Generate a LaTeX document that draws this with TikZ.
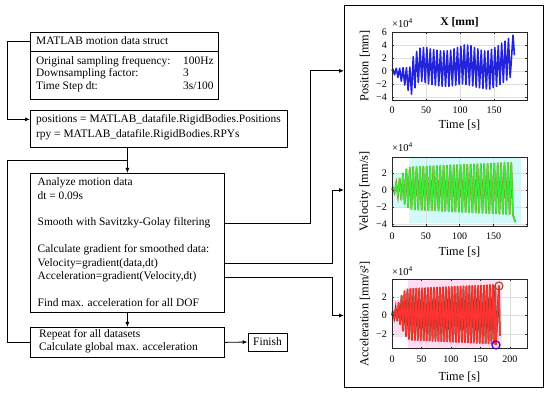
\documentclass[tikz,border=0pt]{standalone}
\usepackage{fontspec}
\setmainfont{Liberation Serif}
\usetikzlibrary{arrows.meta,calc}
\definecolor{posblue}{RGB}{35,35,220}
\definecolor{velgreen}{RGB}{60,235,60}
\definecolor{velolive}{RGB}{140,140,30}
\definecolor{accred}{RGB}{255,50,50}
\definecolor{accbrown}{RGB}{140,60,30}
\definecolor{cyanbg}{RGB}{210,250,250}
\definecolor{pinkbg}{RGB}{255,220,242}
\definecolor{gridgray}{RGB}{222,222,222}
\definecolor{axgray}{RGB}{40,40,40}
\definecolor{circbrown}{RGB}{150,80,30}
\definecolor{circblue}{RGB}{60,0,210}
\begin{document}
\begin{tikzpicture}[x=1pt,y=-1pt,
  box/.style={draw, line width=0.8pt, rectangle, inner sep=0pt},
  txt/.style={font=\fontsize{11.4}{13.5}\selectfont, anchor=west, inner sep=0pt, text height=8pt, text depth=2.5pt},
  conn/.style={line width=0.8pt},
  arr/.style={conn, -{Latex[length=5pt,width=4pt]}},
  axbox/.style={draw=axgray, line width=0.5pt},
  gridl/.style={draw=gridgray, line width=0.4pt},
  ticklab/.style={font=\fontsize{10}{12}\selectfont, inner sep=0pt},
  axlab/.style={font=\fontsize{12.3}{14}\selectfont, inner sep=0pt},
  expo/.style={font=\fontsize{10.5}{12}\selectfont, inner sep=0pt, anchor=west},
]
\useasboundingbox (0,0) rectangle (550,395);

% ---------- flowchart ----------
\node[box, anchor=north west, minimum width=188pt, minimum height=19pt] (b1h) at (30,32) {};
\node[box, anchor=north west, minimum width=188pt, minimum height=48pt] (b1b) at (30,51) {};
\node[txt] (t1) at (36,41.5) {MATLAB motion data struct};
\node[txt] (t2) at (36,61.5) {Original sampling frequency:};
\node[txt] (t3) at (36,74) {Downsampling factor:};
\node[txt] (t4) at (36,86.5) {Time Step dt:};
\node[txt] (v2) at (183,61.5) {100Hz};
\node[txt] (v3) at (183,74) {3};
\node[txt] (v4) at (183,86.5) {3s/100};

\node[box, anchor=north west, minimum width=257pt, minimum height=37pt] (b2) at (30,110) {};
\node[txt] (t5) at (36,119.5) {positions = MATLAB\_datafile.RigidBodies.Positions};
\node[txt] (t6) at (36,134.5) {rpy = MATLAB\_datafile.RigidBodies.RPYs};

\node[box, anchor=north west, minimum width=194pt, minimum height=139pt] (b3) at (30,173) {};
\node[txt] (l1) at (37.5,183) {Analyze motion data};
\node[txt] (l2) at (37.5,196.5) {dt = 0.09s};
\node[txt] (l3) at (37.5,223) {Smooth with Savitzky-Golay filtering};
\node[txt] (l4) at (37.5,250) {Calculate gradient for smoothed data:};
\node[txt] (l5) at (37.5,263.5) {Velocity=gradient(data,dt)};
\node[txt] (l6) at (37.5,277) {Acceleration=gradient(Velocity,dt)};
\node[txt] (l7) at (37.5,304) {Find max. acceleration for all DOF};

\node[box, anchor=north west, minimum width=194pt, minimum height=30pt] (b4) at (30,327) {};
\node[txt] (r1) at (39,334.5) {Repeat for all datasets};
\node[txt] (r2) at (39,348) {Calculate global max. acceleration};

\node[box, minimum width=39pt, minimum height=18pt, font=\fontsize{11.4}{13.5}\selectfont] (fin) at (267.5,342) {Finish};

\node[box, anchor=north west, minimum width=199pt, minimum height=382pt] (P) at (344,5) {};

% ---------- plot 1: position ----------
\begin{scope}[shift={(392,70.9)}, x=0.68pt, y=6.48pt]
  \coordinate (z1) at (0,0);
  \foreach \tk in {50,100,150} \draw[gridl] (\tk,-4.5) -- (\tk,6);
  \foreach \vv in {-4,-2,0,2,4} \draw[gridl] (0,\vv) -- (198.5,\vv);
  \draw[posblue, line width=1.6pt, line join=round] (0,0)
    \foreach \kk/\hi/\lo in {0/0.3/-0.6, 1/0.4/-1.0, 2/0.4/-1.6, 3/0.5/-2.2, 4/0.5/-3.0, 5/0.6/-3.6, 6/2.2/-2.6, 7/3.0/-1.8, 8/3.5/-1.6, 9/3.6/-1.8, 10/3.6/-2.0, 11/3.4/-2.1, 12/3.3/-2.2, 13/3.2/-2.3, 14/3.1/-2.4, 15/3.1/-2.4, 16/3.1/-2.4, 17/3.2/-2.3, 18/3.4/-2.2, 19/3.6/-2.1, 20/3.8/-2.0, 21/4.0/-2.1, 22/4.0/-2.2, 23/3.9/-2.3, 24/3.6/-2.5, 25/3.4/-2.6, 26/3.2/-2.7, 27/3.1/-2.8, 28/3.1/-2.8, 29/3.3/-2.6, 30/3.6/-2.4, 31/3.9/-2.1, 32/4.3/-1.8, 33/4.6/-1.4, 34/5.0/-1.0}
    { -- ({5*\kk+1.25},\hi) -- ({5*\kk+3.75},\lo) } -- (178,5.5) -- (180,2.4);
  \draw[axbox] (0,-4.5) rectangle (198.5,6);
  \foreach \tk in {0,50,100,150} {
    \draw[axbox] (\tk,-4.5) -- ++(0,1.5pt);
    \draw[axbox] (\tk,6) -- ++(0,-1.5pt);
    \node[ticklab] at ([yshift=-10pt]\tk,-4.5) {\tk};
  }
  \foreach \vv/\lab in {-4/−4,-2/−2,0/0,2/2,4/4,6/6} {
    \draw[axbox] (0,\vv) -- ++(1.5pt,0);
    \draw[axbox] (198.5,\vv) -- ++(-1.5pt,0);
    \node[ticklab, anchor=east] at ([xshift=-5pt]0,\vv) {\lab};
  }
\end{scope}
\node[font=\bfseries\fontsize{11.6}{13}\selectfont, inner sep=0pt] (ti1) at (459.5,22) {X [mm]};
\node[expo] (e1) at (392,23) {×10\textsuperscript{4}};
\node[axlab, rotate=90] (yl1) at (365,66) {Position [mm]};
\node[axlab] (xl1) at (459.5,125.5) {Time [s]};

% ---------- plot 2: velocity ----------
\begin{scope}[shift={(392,190)}, x=0.6767pt, y=8.47pt]
  \coordinate (z2) at (0,0);
  \fill[cyanbg] (0,-1.95) rectangle (24.4,1.87);
  \fill[cyanbg] (24.4,-3.95) rectangle (190.6,3.75);
  \foreach \tk in {50,100,150} \draw[gridl] (\tk,-4.25) -- (\tk,3.9);
  \foreach \vv in {-4,-2,0,2} \draw[gridl] (0,\vv) -- (199.5,\vv);
  \draw[velgreen, line width=1.25pt, line join=round, preaction={draw=velolive, line width=1.8pt}] (0,0)
    \foreach \kk/\hi/\lo in {0/0.3/-0.3, 1/0.8/-0.7, 2/1.4/-1.2, 3/2.0/-1.7, 4/2.5/-2.1, 5/2.7/-2.3}
    { -- ({5*\kk+1.25},\hi) -- ({5*\kk+3.75},\lo) }
    \foreach \kk in {6,...,35}
    { -- ({5*\kk+1.25},{2.75+(\kk-6)*0.018}) -- ({5*\kk+3.75},{-2.35-(\kk-6)*0.02}) }
    -- (182,-3.75);
  \draw[axbox] (0,-4.25) rectangle (199.5,3.9);
  \foreach \tk in {0,50,100,150} {
    \draw[axbox] (\tk,-4.25) -- ++(0,1.5pt);
    \draw[axbox] (\tk,3.9) -- ++(0,-1.5pt);
    \node[ticklab] at ([yshift=-10pt]\tk,-4.25) {\tk};
  }
  \foreach \vv/\lab in {-4/−4,-2/−2,0/0,2/2} {
    \draw[axbox] (0,\vv) -- ++(1.5pt,0);
    \draw[axbox] (199.5,\vv) -- ++(-1.5pt,0);
    \node[ticklab, anchor=east] at ([xshift=-5pt]0,\vv) {\lab};
  }
\end{scope}
\node[expo] (e2) at (392,147) {×10\textsuperscript{4}};
\node[axlab, rotate=90] (yl2) at (365,191.5) {Velocity [mm/s]};
\node[axlab] (xl2) at (459.5,252.5) {Time [s]};

% ---------- plot 3: acceleration ----------
\begin{scope}[shift={(392,315.5)}, x=0.5895pt, y=9.16pt]
  \coordinate (z3) at (0,0);
  \fill[pinkbg] (0,-2.4) rectangle (27.7,1.7);
  \fill[pinkbg] (27.7,-3.55) rectangle (186,3.98);
  \foreach \tk in {50,100,150,200} \draw[gridl] (\tk,-3.55) -- (\tk,3.98);
  \foreach \vv in {-2,0,2} \draw[gridl] (0,\vv) -- (229,\vv);
  \draw[accred, line width=1.25pt, line join=round, preaction={draw=accbrown, line width=1.8pt}] (0,0)
    \foreach \kk/\hi/\lo in {0/0.4/-0.3, 1/0.8/-0.6, 2/1.4/-1.0, 3/2.2/-1.7, 4/2.7/-2.3, 5/2.9/-2.6}
    { -- ({5*\kk+1.25},\hi) -- ({5*\kk+3.75},\lo) }
    \foreach \kk in {6,...,34}
    { -- ({5*\kk+1.25},{2.95+(\kk-6)*0.015}) -- ({5*\kk+3.75},{-2.7-(\kk-6)*0.015}) }
    -- (175.2,3.3) -- (176.4,-3.2) -- (181.3,3.25) -- (183,-2.2);
  \draw[axbox] (0,-3.55) rectangle (229,3.98);
  \foreach \tk in {0,50,100,150,200} {
    \draw[axbox] (\tk,-3.55) -- ++(0,1.5pt);
    \draw[axbox] (\tk,3.98) -- ++(0,-1.5pt);
    \node[ticklab] at ([yshift=-11pt]\tk,-3.55) {\tk};
  }
  \foreach \vv/\lab in {-2/−2,0/0,2/2} {
    \draw[axbox] (0,\vv) -- ++(1.5pt,0);
    \draw[axbox] (229,\vv) -- ++(-1.5pt,0);
    \node[ticklab, anchor=east] at ([xshift=-5pt]0,\vv) {\lab};
  }
  \draw[circbrown, line width=1.1pt] (181.5,3.22) circle[radius=4pt];
  \draw[circblue, line width=1.2pt] (176.4,-3.22) circle[radius=4pt];
\end{scope}
\node[expo] (e3) at (392,271) {×10\textsuperscript{4}};
\node[axlab, rotate=90] (yl3) at (365,314) {Acceleration [mm/s²]};
\node[axlab] (xl3) at (459.5,377) {Time [s]};

% ---------- connectors ----------
\coordinate (j) at ([yshift=13pt]b3.north);
\draw[arr] (b1h.west) -- ++(-23,0) |- ([yshift=9.5pt]b2.west);
\draw[arr] (b2.south -| b3.north) -- (b3.north);
\draw[conn] (b4.west) -- ++(-23,0) |- (j);
\draw[arr] (b3.south) -- (b4.north);
\draw[arr] (b4.east) -- (fin.west);
\draw[arr] (b3.east |- l3) -| ([xshift=-34pt]P.west |- z1) -- (P.west |- z1);
\draw[arr] (b3.east |- l5) -| ([xshift=-12pt]P.west |- z2) -- (P.west |- z2);
\draw[arr] (b3.east |- l6) -| ([xshift=-12pt]P.west |- z3) -- (P.west |- z3);
\end{tikzpicture}
\end{document}
